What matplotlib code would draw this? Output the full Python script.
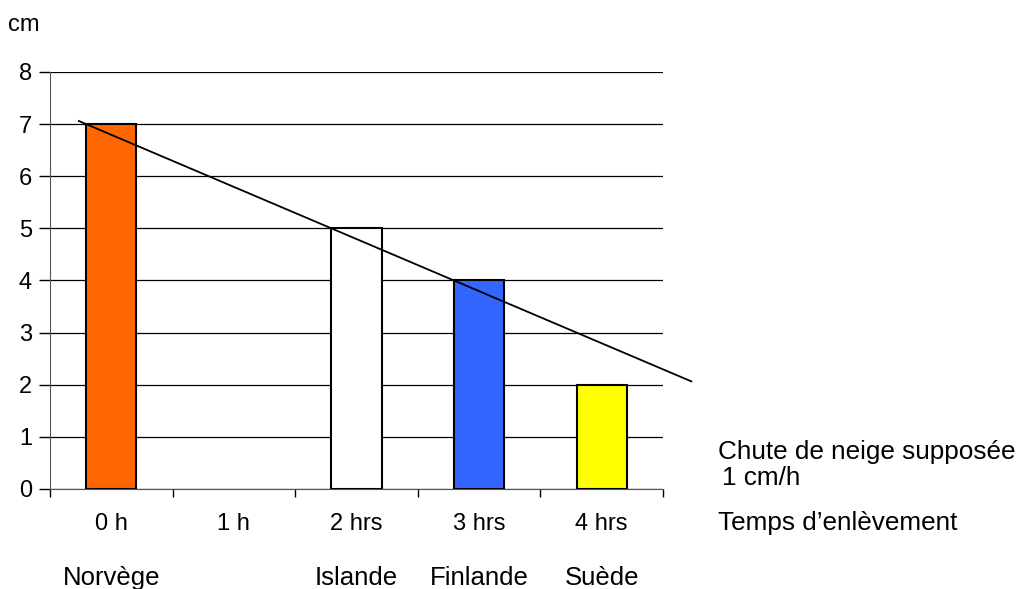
import matplotlib.pyplot as plt
import numpy as np

plt.rcParams['font.family'] = ['Liberation Sans', 'DejaVu Sans']

# data
hours = ["0 h", "1 h", "2 hrs", "3 hrs", "4 hrs"]
countries = ["Norvège", "", "Islande", "Finlande", "Suède"]
depth_cm = [7, 0, 5, 4, 2]
bar_colors = ["#FF6600", "none", "#FFFFFF", "#3366FF", "#FFFF00"]
has_bar = [True, False, True, True, True]
snowfall_rate = 1  # cm/h
start_depth = 7

fig = plt.figure(figsize=(10.24, 5.89), dpi=100)
ax = fig.add_axes([0.0488, 0.1698, 0.5987, 0.708])

x = np.arange(len(hours))
width = 0.41
for xi, d, c, b in zip(x, depth_cm, bar_colors, has_bar):
    if b:
        ax.bar(xi, d, width=width, color=c, edgecolor="black", linewidth=1.5, zorder=3)

# assumed snowfall line, starting at the top-left corner of the first bar
bar_left = -width / 2
tx = np.array([bar_left - 0.06, len(hours) - 0.27])
ty = start_depth - snowfall_rate * (tx - bar_left)
ax.plot(tx, ty, color="black", linewidth=1.3, zorder=4, clip_on=False)

ax.set_xlim(-0.5, len(hours) - 0.5)
ax.set_ylim(0, 8)
ax.set_yticks(range(0, 9))
ax.yaxis.grid(True, color="black", linewidth=0.9, zorder=0)
ax.set_axisbelow(True)

ax.set_xticks(x)
ax.set_xticklabels(hours)
ax.set_xticks(np.arange(-0.5, len(hours)), minor=True)
ax.tick_params(axis="x", which="major", length=0, pad=17, labelsize=17)
ax.tick_params(axis="x", which="minor", length=6, width=1, color="black")
ax.tick_params(axis="y", length=8, width=1, labelsize=17, pad=5)

for s in ["top", "right"]:
    ax.spines[s].set_visible(False)
ax.spines["left"].set_color("#555555")
ax.spines["bottom"].set_color("#555555")

for xi, name in zip(x, countries):
    ax.text(xi, -0.213, name, transform=ax.get_xaxis_transform(),
            ha="center", va="center", fontsize=18.5)

fig.text(0.008, 0.958, "cm", ha="left", va="center", fontsize=17)
fig.text(0.701, 0.233, "Chute de neige supposée", ha="left", va="center", fontsize=18.8)
fig.text(0.705, 0.188, "1 cm/h", ha="left", va="center", fontsize=18.8)
fig.text(0.701, 0.112, "Temps d’enlèvement", ha="left", va="center", fontsize=18.8)

fig.savefig("out.png", dpi=100)
